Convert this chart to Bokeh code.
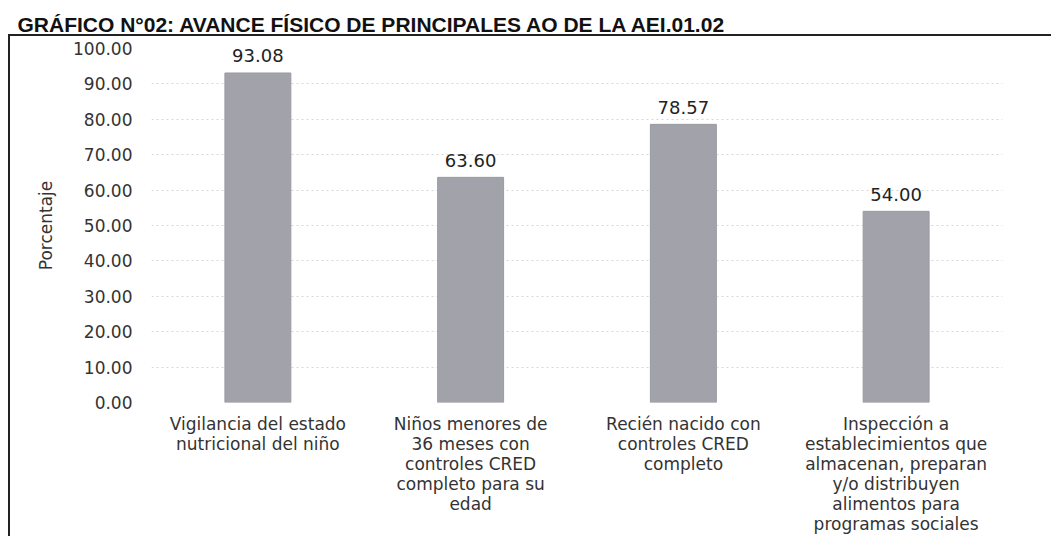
from bokeh.plotting import figure
from bokeh.models import (FactorRange, Range1d, FixedTicker, NumeralTickFormatter,
                          LabelSet, ColumnDataSource)
from bokeh.core.properties import value
from bokeh.embed import file_html
from bokeh.resources import INLINE

# ---- data ----
categories = [
    "Vigilancia del estado\nnutricional del niño",
    "Niños menores de\n36 meses con\ncontroles CRED\ncompleto para su\nedad",
    "Recién nacido con\ncontroles CRED\ncompleto",
    "Inspección a\nestablecimientos que\nalmacenan, preparan\ny/o distribuyen\nalimentos para\nprogramas sociales",
]
values = [93.08, 63.60, 78.57, 54.00]
value_labels = ["93.08", "63.60", "78.57", "54.00"]
y_ticks = [0, 10, 20, 30, 40, 50, 60, 70, 80, 90, 100]
title_text = "GRÁFICO N°02: AVANCE FÍSICO DE PRINCIPALES AO DE LA AEI.01.02"
y_label = "Porcentaje"

src = ColumnDataSource(dict(cat=categories, val=values, lab=value_labels))

p = figure(width=1051, height=536, output_backend="svg", toolbar_location=None,
           x_range=FactorRange(*categories), y_range=Range1d(0, 100),
           min_border_left=151, min_border_right=49, min_border_top=48,
           min_border_bottom=134, title=title_text)
p.outline_line_color = None
p.background_fill_color = "white"
p.border_fill_color = None
# page frame lines (left and top edges of the scanned box)
p.styles = {
    "background-color": "white",
    "background-image": "linear-gradient(#222,#222), linear-gradient(#222,#222)",
    "background-size": "2px 100%, 100% 2px",
    "background-position": "8px 34px, 8px 34px",
    "background-repeat": "no-repeat",
}

p.title.text_font = "Liberation Sans"
p.title.text_font_style = "bold"
p.title.text_font_size = "21px"
p.title.text_color = "#111111"
p.title.align = "left"
p.title.vertical_align = "top"
p.title.offset = -134
p.title.standoff = 21

p.vbar(x="cat", top="val", width=0.31, source=src,
       fill_color="#a2a2aa", line_color="#9a9aa2", line_width=1)

# x axis (category labels)
xax = p.xaxis[0]
xax.axis_line_color = None
xax.major_tick_line_color = None
xax.minor_tick_line_color = None
xax.major_label_standoff = 5
xax.major_label_text_font = "DejaVu Sans"
xax.major_label_text_font_size = "17px"
xax.major_label_text_line_height = 1.0
xax.major_label_text_color = "#333333"
xax.major_label_orientation = "horizontal"
p.xgrid.grid_line_color = None

# y axis
yax = p.yaxis[0]
yax.ticker = FixedTicker(ticks=y_ticks)
yax.formatter = NumeralTickFormatter(format="0.00")
yax.axis_line_color = None
yax.major_tick_line_color = None
yax.minor_tick_line_color = None
yax.major_label_standoff = 13
yax.major_label_text_font = "DejaVu Sans"
yax.major_label_text_font_size = "17px"
yax.major_label_text_color = "#333333"
yax.axis_label = y_label
yax.axis_label_text_font = "DejaVu Sans"
yax.axis_label_text_font_size = "17px"
yax.axis_label_text_font_style = "normal"
yax.axis_label_text_color = "#333333"
yax.axis_label_standoff = 14
p.ygrid.ticker = FixedTicker(ticks=y_ticks)
p.ygrid.grid_line_color = "#d6d6d6"
p.ygrid.grid_line_dash = "2 3"
p.ygrid.grid_line_width = 1

# value labels
p.add_layout(LabelSet(x="cat", y="val", text="lab", source=src,
                      text_align="center", text_baseline="middle", y_offset=17,
                      text_font=value("DejaVu Sans"), text_font_size=value("18px"),
                      text_color="#222222"))

open("out.html", "w").write(file_html(p, INLINE))
